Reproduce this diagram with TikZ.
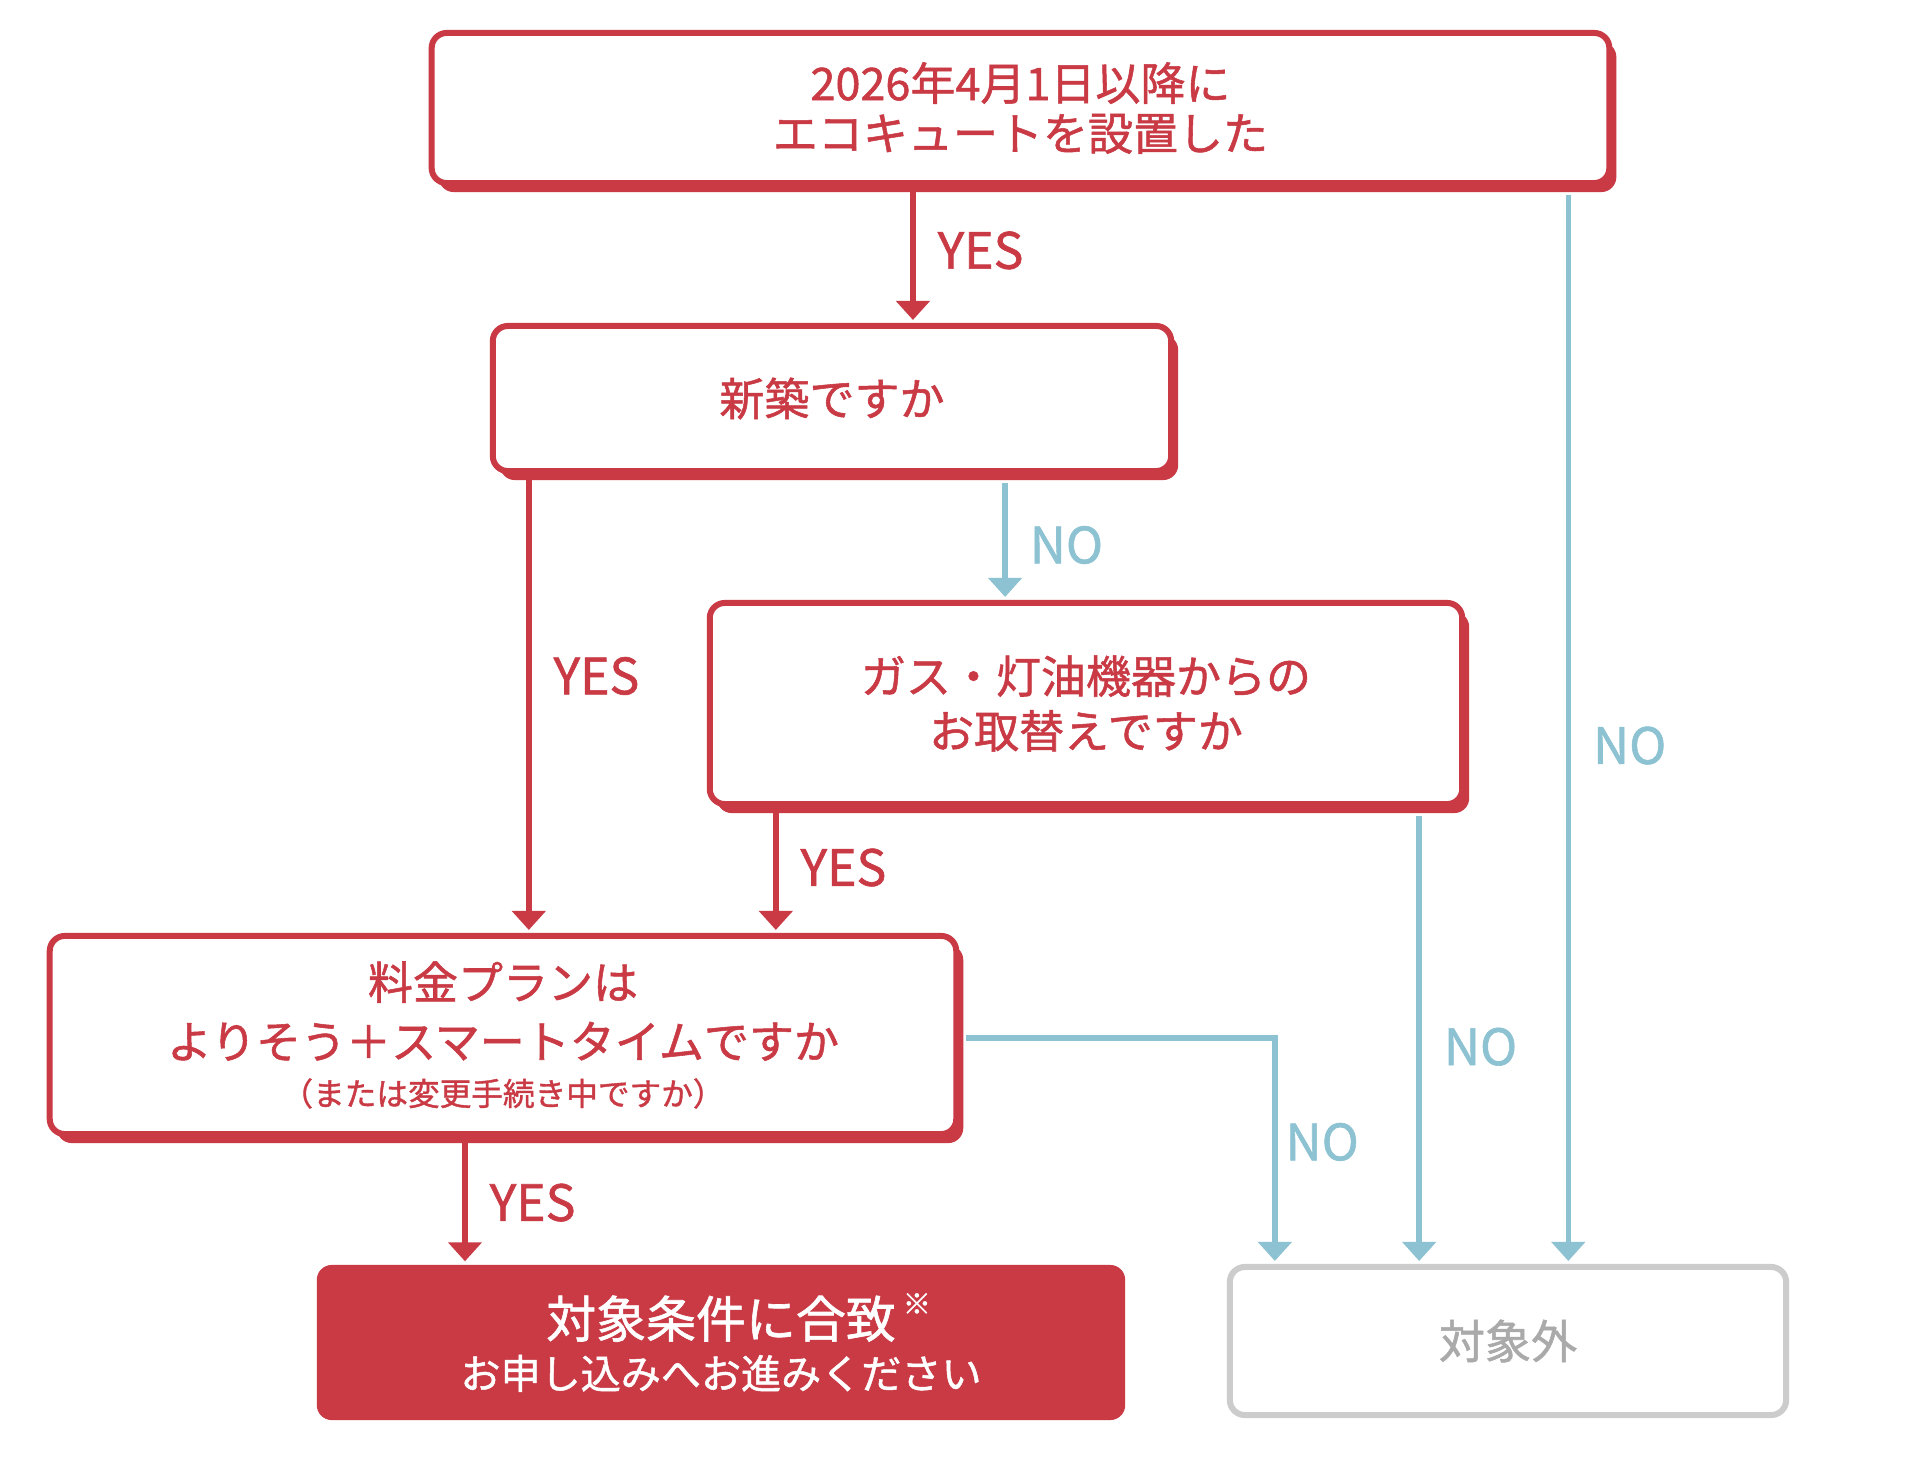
\documentclass[tikz,border=0pt]{standalone}
\usepackage{fontspec}
\setmainfont{Noto Sans CJK JP}[FakeBold=1.2]
\usetikzlibrary{arrows.meta, shadows}
\definecolor{flowred}{HTML}{C93A45}
\definecolor{flowblue}{HTML}{8CC2D2}
\definecolor{flowgray}{HTML}{CCCCCC}
\definecolor{flowtext}{HTML}{AAAAAA}
\tikzstyle{question} = [rectangle, rounded corners=0.15cm, draw=flowred, line width=0.06cm, fill=white, text=flowred, align=center, inner sep=0pt, drop shadow={shadow xshift=0.07cm, shadow yshift=-0.09cm, fill=flowred, opacity=1}]
\tikzstyle{eligiblebox} = [rectangle, rounded corners=0.15cm, fill=flowred, text=white, align=center, inner sep=0pt]
\tikzstyle{outbox} = [rectangle, rounded corners=0.15cm, draw=flowgray, line width=0.06cm, fill=white, text=flowtext, inner sep=0pt]
\tikzstyle{yesarrow} = [line width=0.055cm, draw=flowred, -{Triangle[length=0.19cm, width=0.33cm]}, shorten >=0.03cm]
\tikzstyle{noarrow} = [line width=0.055cm, draw=flowblue, -{Triangle[length=0.19cm, width=0.33cm]}, shorten >=0.03cm]
\tikzstyle{yeslabel} = [text=flowred, font=\fontsize{14.2}{14.2}\selectfont, inner sep=0pt]
\tikzstyle{nolabel} = [text=flowblue, font=\fontsize{14.2}{14.2}\selectfont, inner sep=0pt]

\begin{document}
\begin{tikzpicture}[x=0.01cm, y=-0.01cm]

\useasboundingbox [fill=white] (0,0) rectangle (1920,1460);

\node (installDate) [question, minimum width=11.77cm, minimum height=1.5cm, font=\fontsize{12.8}{14.2}\selectfont] at (1020.5,108) {2026年4月1日以降に\\エコキュートを設置した};
\node (newBuild) [question, minimum width=6.78cm, minimum height=1.45cm, font=\fontsize{12.8}{15.6}\selectfont] at (832,398.5) {新築ですか};
\node (replaceGas) [question, minimum width=7.52cm, minimum height=2.01cm, font=\fontsize{12.8}{15.6}\selectfont] at (1086,703.5) {ガス・灯油機器からの\\お取替えですか};
\node (ratePlan) [question, minimum width=9.06cm, minimum height=1.98cm, font=\fontsize{12.8}{16.8}\selectfont] at (503,1035) {料金プランは\\よりそう＋スマートタイムですか\\[-3.4pt]{\fontsize{9}{10}\selectfont （または変更手続き中ですか）}};
\node (eligible) [eligiblebox, minimum width=8.08cm, minimum height=1.55cm, font=\fontsize{11.4}{14.5}\selectfont] at (721,1342.5) {{\fontsize{14.2}{14.5}\selectfont 対象条件に合致\rlap{\kern2pt\raisebox{6.7pt}{\fontsize{8}{8}\selectfont ※}}}\\お申し込みへお進みください};
\node (notEligible) [outbox, minimum width=5.56cm, minimum height=1.48cm, font=\fontsize{13.1}{15}\selectfont] at (1508,1341) {対象外};

\draw [yesarrow] ([xshift=-1.075cm]installDate.south) -- ([xshift=-1.075cm]installDate.south |- newBuild.north) node [yeslabel, pos=0.47, right=0.22cm] {YES};
\draw [noarrow] ([xshift=5.475cm, yshift=-0.09cm]installDate.south) -- ([xshift=5.475cm]installDate.south |- notEligible.north) node [nolabel, pos=0.515, right=0.22cm] {NO};
\draw [noarrow] ([xshift=1.73cm, yshift=-0.09cm]newBuild.south) -- ([xshift=1.73cm]newBuild.south |- replaceGas.north) node [nolabel, pos=0.53, right=0.22cm] {NO};
\draw [yesarrow] ([xshift=-3.03cm]newBuild.south) -- ([xshift=-3.03cm]newBuild.south |- ratePlan.north) node [yeslabel, pos=0.44, right=0.22cm] {YES};
\draw [yesarrow] ([xshift=-3.1cm]replaceGas.south) -- ([xshift=-3.1cm]replaceGas.south |- ratePlan.north) node [yeslabel, pos=0.48, right=0.22cm] {YES};
\draw [noarrow] ([xshift=3.33cm, yshift=-0.09cm]replaceGas.south) -- ([xshift=3.33cm]replaceGas.south |- notEligible.north) node [nolabel, pos=0.515, right=0.22cm] {NO};
\draw [noarrow] ([xshift=0.07cm, yshift=-0.03cm]ratePlan.east) -| ([xshift=-2.33cm]notEligible.north) node [nolabel, pos=0.73, right=0.08cm] {NO};
\draw [yesarrow] ([xshift=-0.38cm]ratePlan.south) -- ([xshift=-0.38cm]ratePlan.south |- eligible.north) node [yeslabel, pos=0.515, right=0.22cm] {YES};

\end{tikzpicture}
\end{document}
